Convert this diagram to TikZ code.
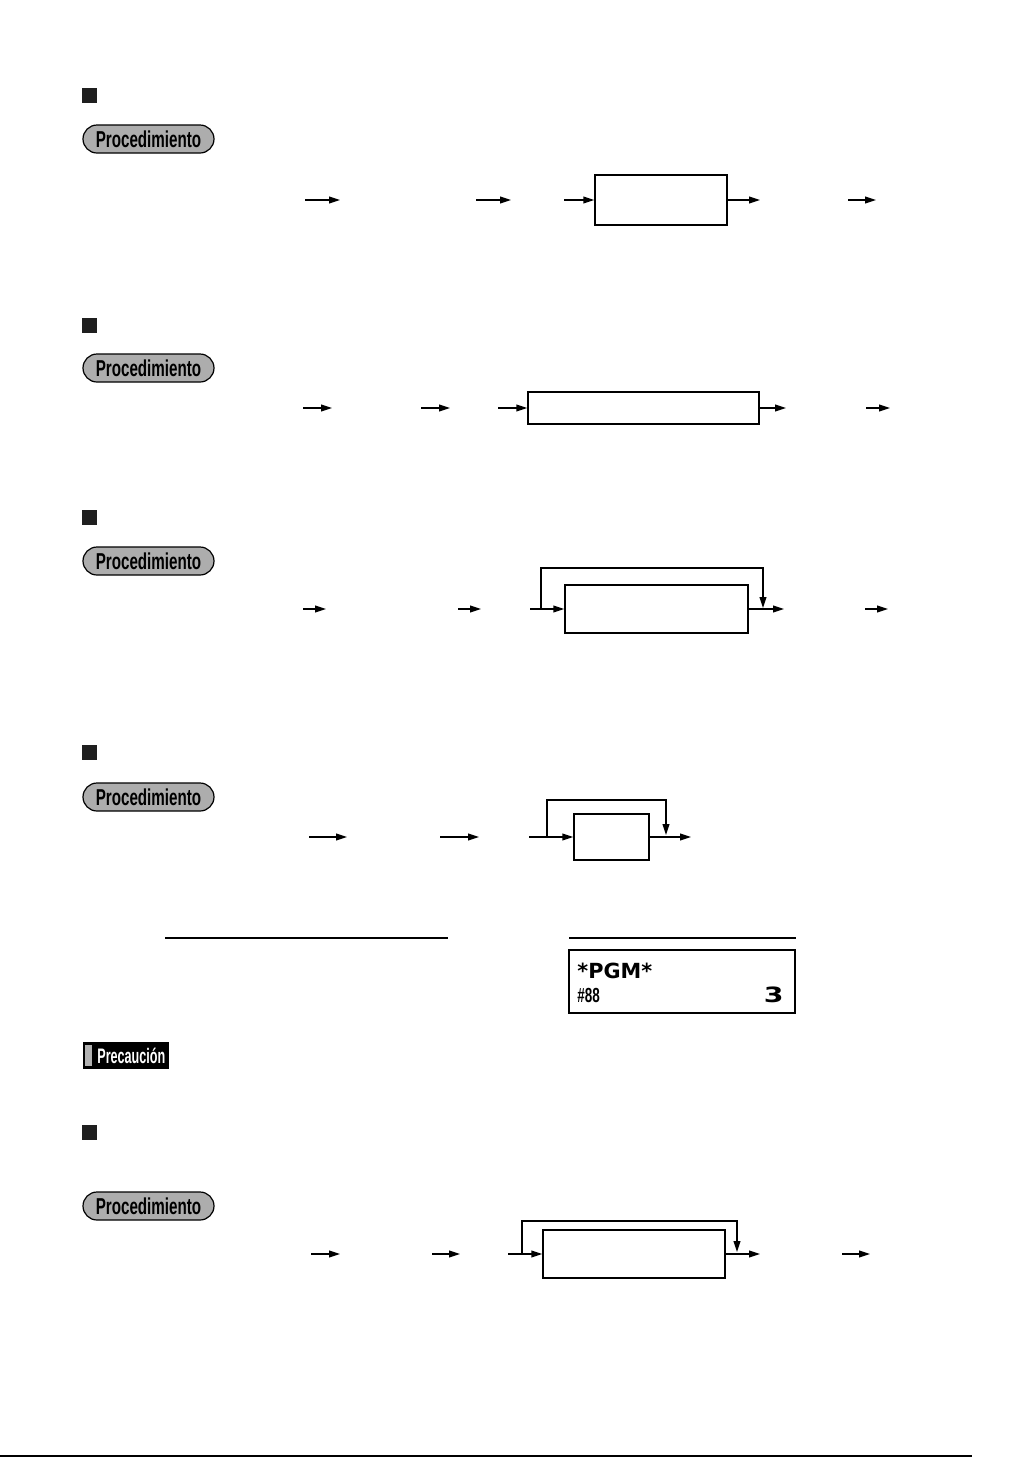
\documentclass[tikz,border=0pt]{standalone}
\usepackage{fontspec}
\setmainfont{Liberation Sans}
\newfontfamily\condfont[FakeStretch=0.66]{Liberation Sans}
\newfontfamily\xcondfont[FakeStretch=0.6]{Liberation Sans}
\newfontfamily\dispfont{DejaVu Sans}
\usetikzlibrary{arrows.meta,fit}
\begin{document}
\begin{tikzpicture}[x=0.5pt,y=-0.5pt,
  arr/.style={-{Triangle[length=5.5pt,width=3.4pt]},line width=0.7pt},
  box/.style={draw,line width=0.7pt,inner sep=0pt},
  sqmark/.style={fill=black!88},
  badge/.style={draw,line width=0.6pt,fill=black!32,rounded corners=7pt,inner sep=0pt},
  badgetext/.style={font=\condfont\bfseries\fontsize{11.5}{13}\selectfont},
  rule/.style={line width=0.7pt}]
\useasboundingbox (0,0) rectangle (1033,1458);

% section markers
\foreach \n/\y in {s1/88,s2/318,s3/510,s4/745,s5/1125}
  \node[sqmark,inner sep=0pt,fit={(82,\y) (97,\y+15)}] (\n) {};

% Procedimiento badges
\foreach \n/\y in {p1/125,p2/354,p3/547,p4/783,p5/1192}
  \node[badge,fit={(83,\y) (214,\y+28)}] (\n) {};
\foreach \n in {p1,p2,p3,p4,p5}
  \node[badgetext] (\n t) at (\n.center) {Procedimiento};

% free arrows
\foreach \n/\xa/\xb/\y in {a1/305/340/200,a2/476/511/200,a3/848/876/200,
  b1/303/332/408,b2/421/450/408,b3/866/890/408,
  c1/303/326/609,c2/458/481/609,c3/865/888/609,
  d1/309/347/837,d2/440/479/837,
  e1/311/340/1254,e2/432/460/1254,e3/842/870/1254}{
  \coordinate (\n s) at (\xa,\y);
  \coordinate (\n e) at (\xb,\y);
  \draw[arr] (\n s) -- (\n e);
}

% Section 1
\node[box,fit={(595,175) (727,225)}] (B1) {};
\coordinate (B1in) at (564,200);
\coordinate (B1out) at (760,200);
\draw[arr] (B1in) -- (B1.west);
\draw[arr] (B1.east) -- (B1out);

% Section 2
\node[box,fit={(528,392) (759,424)}] (B2) {};
\coordinate (B2in) at (498,408);
\coordinate (B2out) at (786,408);
\draw[arr] (B2in) -- (B2.west);
\draw[arr] (B2.east) -- (B2out);

% Section 3
\node[box,fit={(565,585) (748,633)}] (B3) {};
\coordinate (B3in) at (530,609);
\coordinate (B3lp) at (541,609);
\coordinate (B3top) at (763,568);
\coordinate (B3dn) at (763,608);
\coordinate (B3out) at (784,609);
\draw[line width=0.7pt] (B3in) -- (B3lp);
\draw[arr] (B3lp) -- (B3.west);
\draw[arr] (B3lp) |- (B3top) -- (B3dn);
\draw[arr] (B3.east) -- (B3out);

% Section 4
\node[box,fit={(574,814) (649,860)}] (B4) {};
\coordinate (B4in) at (529,837);
\coordinate (B4lp) at (547,837);
\coordinate (B4top) at (666,800);
\coordinate (B4dn) at (666,835);
\coordinate (B4out) at (691,837);
\draw[line width=0.7pt] (B4in) -- (B4lp);
\draw[arr] (B4lp) -- (B4.west);
\draw[arr] (B4lp) |- (B4top) -- (B4dn);
\draw[arr] (B4.east) -- (B4out);

% rules and display
\coordinate (r1a) at (165,938); \coordinate (r1b) at (448,938);
\coordinate (r2a) at (569,938); \coordinate (r2b) at (796,938);
\draw[rule] (r1a) -- (r1b);
\draw[rule] (r2a) -- (r2b);
\node[box,fit={(569,950) (795,1013)}] (disp) {};
\node[anchor=base west,inner sep=0pt,font=\dispfont\bfseries\fontsize{10.4}{12}\selectfont] (pgm) at (577,978) {*PGM*};
\node[anchor=base west,inner sep=0pt,font=\condfont\bfseries\fontsize{10.2}{12}\selectfont] (n88) at (577,1002) {\#88};
\node[anchor=base east,inner sep=0pt,font=\dispfont\bfseries\fontsize{10.5}{12}\selectfont] (n3) at (784,1002) {\scalebox{1.35}[1]{3}};

% Precaucion badge
\node[fill=black,inner sep=0pt,fit={(83,1042) (169,1069)}] (prec) {};
\node[fill=black!30,inner sep=0pt,fit={(85,1045) (92,1066)}] (precbar) {};
\node[anchor=west,inner sep=0pt,text=white,font=\xcondfont\bfseries\fontsize{10.5}{12}\selectfont] (prect) at (97,1056) {Precaución};

% Section 5
\node[box,fit={(543,1230) (725,1278)}] (B5) {};
\coordinate (B5in) at (508,1254);
\coordinate (B5lp) at (522,1254);
\coordinate (B5top) at (737,1221);
\coordinate (B5dn) at (737,1252);
\coordinate (B5out) at (760,1254);
\draw[line width=0.7pt] (B5in) -- (B5lp);
\draw[arr] (B5lp) -- (B5.west);
\draw[arr] (B5lp) |- (B5top) -- (B5dn);
\draw[arr] (B5.east) -- (B5out);

% bottom rule
\coordinate (bl) at (0,1456); \coordinate (br) at (972,1456);
\draw[line width=1pt] (bl) -- (br);
\end{tikzpicture}
\end{document}
